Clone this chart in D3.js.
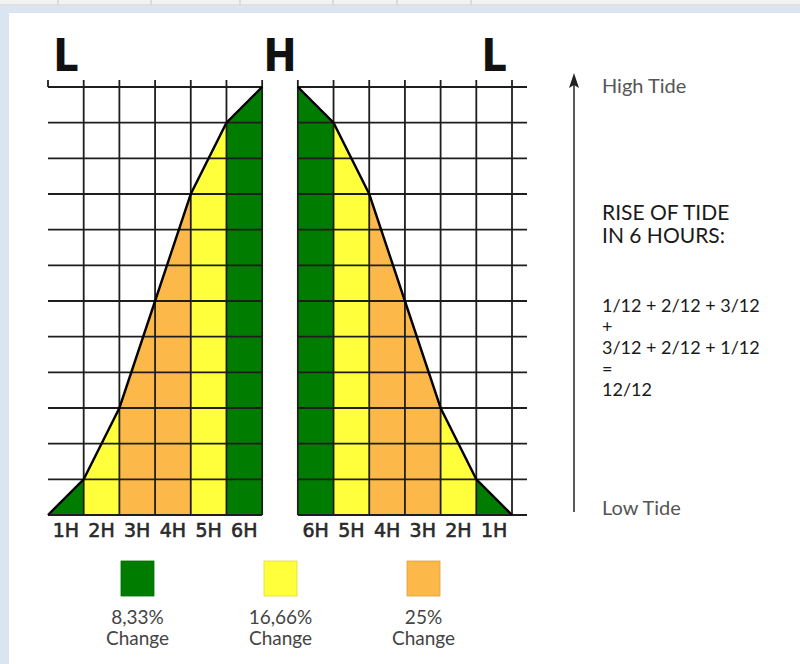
<!DOCTYPE html>
<html>
<head>
<meta charset="utf-8">
<script src="https://cdn.jsdelivr.net/npm/d3@7"></script>
<style>
  body { margin: 0; background: #fff; }
  svg { display: block; }
</style>
</head>
<body>
<div id="content"></div>
<script>
const hourLabels = ['1H', '2H', '3H', '4H', '5H', '6H'];
const twelfths = [1, 2, 3, 3, 2, 1];
const topLabels = ['L', 'H', 'L'];
const topCols = [0.5, 6.5, 12.5];
const legendTwelfths = [1, 2, 3];
const legendLabels = ['8,33%', '16,66%', '25%'];
const formulaLines = ['1/12 + 2/12 + 3/12', '+', '3/12 + 2/12 + 1/12', '=', '12/12'];

const width = 800;
const height = 664;

const svg = d3.select('#content')
    .append('svg')
    .attr('width', width)
    .attr('height', height);

// spreadsheet frame around the picture
svg.append('rect').attr('x', 0).attr('y', 0).attr('width', width).attr('height', 6).attr('fill', '#f2f2f2');
[58, 151, 240, 333, 397, 471].forEach(x => {
    svg.append('line').attr('x1', x).attr('x2', x).attr('y1', 0).attr('y2', 5)
        .attr('stroke', '#c6c6c6');
});
svg.append('line').attr('x1', 0).attr('x2', width).attr('y1', 5).attr('y2', 5).attr('stroke', '#cfcfcf');
svg.append('rect').attr('x', 0).attr('y', 6).attr('width', width).attr('height', 7).attr('fill', '#dbe5f1');
svg.append('rect').attr('x', 0).attr('y', 6).attr('width', 9).attr('height', height).attr('fill', '#dbe5f1');

const x = d3.scaleLinear().domain([0, 13]).range([48, 512]);
const y = d3.scaleLinear().domain([0, 12]).range([515, 87]);
const color = d3.scaleOrdinal().domain([1, 2, 3]).range(['#007d00', '#ffff3c', '#fcb94a']);

const cum = Array.from(d3.cumsum([0, ...twelfths]));

const cols = [];
twelfths.forEach((t, i) => {
    cols.push({col: i, c0: cum[i], c1: cum[i + 1], t: t, label: hourLabels[i]});
});
twelfths.forEach((t, j) => {
    cols.push({col: 7 + j, c0: cum[6 - j], c1: cum[5 - j], t: twelfths[5 - j], label: hourLabels[5 - j]});
});

svg.append('g')
    .selectAll('path')
    .data(cols)
    .join('path')
    .attr('d', d => d3.line()([
        [x(d.col), y(0)], [x(d.col), y(d.c0)],
        [x(d.col + 1), y(d.c1)], [x(d.col + 1), y(0)]
    ]) + 'Z')
    .attr('fill', d => color(d.t));

// grid
const grid = svg.append('g').attr('stroke', '#1e1e1e').attr('stroke-width', 1.8);
d3.range(0, 13).forEach(k => {
    grid.append('line').attr('x1', x(0)).attr('x2', x(6)).attr('y1', y(k)).attr('y2', y(k));
    grid.append('line').attr('x1', x(7)).attr('x2', x(13) + 15).attr('y1', y(k)).attr('y2', y(k));
});
d3.range(0, 14).forEach(i => {
    grid.append('line').attr('x1', x(i)).attr('x2', x(i))
        .attr('y1', y(12) - 7).attr('y2', i === 0 ? y(12) : y(0));
});

// tide curves
const line = d3.line();
svg.append('path')
    .attr('d', line(cum.map((c, i) => [x(i), y(c)])))
    .attr('fill', 'none').attr('stroke', '#000').attr('stroke-width', 2.4);
svg.append('path')
    .attr('d', line(cum.map((c, i) => [x(13 - i), y(c)])))
    .attr('fill', 'none').attr('stroke', '#000').attr('stroke-width', 2.4);

// L H L
svg.append('g')
    .selectAll('text')
    .data(topLabels)
    .join('text')
    .attr('x', (d, i) => x(topCols[i]))
    .attr('y', 71)
    .attr('text-anchor', 'middle')
    .attr('font-family', 'DejaVu Sans Condensed, DejaVu Sans')
    .attr('font-weight', 'bold')
    .attr('font-size', 44)
    .attr('fill', '#111')
    .text(d => d);

// hour labels
svg.append('g')
    .selectAll('text')
    .data(cols)
    .join('text')
    .attr('x', d => x(d.col + 0.5))
    .attr('y', 537)
    .attr('text-anchor', 'middle')
    .attr('font-family', 'DejaVu Sans')
    .attr('font-size', 19)
    .attr('fill', '#2a2a2a')
    .attr('stroke', '#2a2a2a')
    .attr('stroke-width', 0.6)
    .text(d => d.label);

// legend
const legend = svg.append('g')
    .selectAll('g')
    .data(legendTwelfths)
    .join('g')
    .attr('transform', (d, i) => `translate(${137.5 + i * 143},0)`);
legend.append('rect')
    .attr('x', -16.5).attr('y', 561).attr('width', 33).attr('height', 35)
    .attr('fill', d => color(d))
    .attr('stroke', d => d3.color(color(d)).darker(0.4)).attr('stroke-width', 0.8);
legend.append('text')
    .attr('y', 624).attr('text-anchor', 'middle')
    .attr('font-family', 'Lato').attr('font-size', 19).attr('fill', '#444')
    .text((d, i) => legendLabels[i]);
legend.append('text')
    .attr('y', 645).attr('text-anchor', 'middle')
    .attr('font-family', 'Lato').attr('font-size', 19).attr('fill', '#444')
    .text('Change');

// tide arrow and notes
svg.append('line').attr('x1', 574).attr('x2', 574).attr('y1', 80).attr('y2', 512)
    .attr('stroke', '#222').attr('stroke-width', 1.5);
svg.append('path').attr('d', 'M574,73 L579,88 L574,85 L569,88 Z').attr('fill', '#222');

const notes = svg.append('g').attr('font-family', 'Lato');
notes.append('text').attr('x', 602).attr('y', 93).attr('font-size', 20).attr('fill', '#555').text('High Tide');
notes.append('text').attr('x', 602).attr('y', 220).attr('font-size', 21).attr('fill', '#1a1a1a').text('RISE OF TIDE');
notes.append('text').attr('x', 602).attr('y', 243).attr('font-size', 21).attr('fill', '#1a1a1a').text('IN 6 HOURS:');
notes.selectAll('.f')
    .data(formulaLines)
    .join('text')
    .attr('class', 'f')
    .attr('x', 602)
    .attr('y', (d, i) => 312 + i * 21)
    .attr('font-size', 18)
    .attr('fill', '#1a1a1a')
    .text(d => d);
notes.append('text').attr('x', 602).attr('y', 515).attr('font-size', 20).attr('fill', '#555').text('Low Tide');
</script>
</body>
</html>
